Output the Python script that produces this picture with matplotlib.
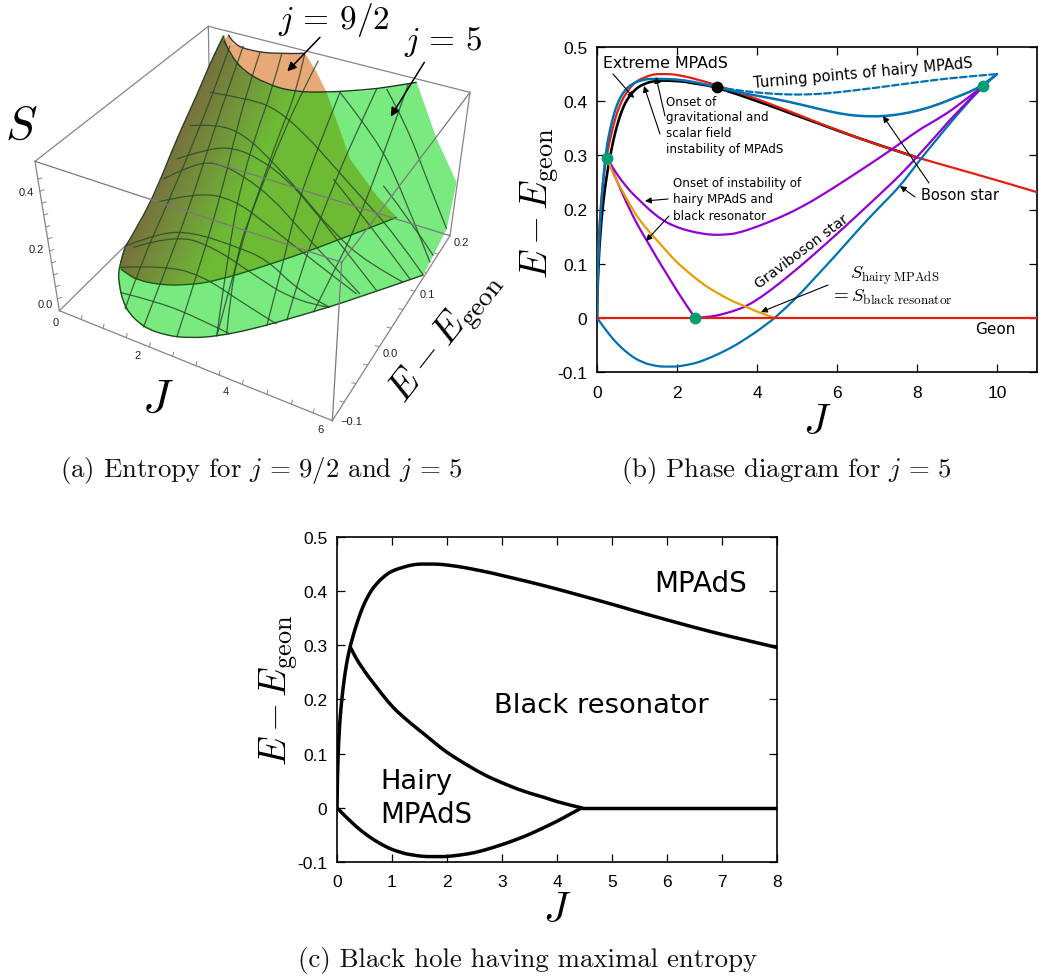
import numpy as np
import matplotlib
matplotlib.use("Agg")
import matplotlib.pyplot as plt
from matplotlib.path import Path
from matplotlib.patches import PathPatch, Polygon

plt.rcParams['mathtext.fontset'] = 'cm'
plt.rcParams['font.family'] = ['Liberation Sans', 'DejaVu Sans']
plt.rcParams['axes.unicode_minus'] = False

W, H = 1039, 979
# ---------- phase diagram data (J, E - E_geon) ----------
mpads_j = [0, .005, .01, .02, .03, .05, .07, .1, .13, .17, .21, .25, .3, .35, .4, .45, .5, .55, .6, .65, .7, .75, .8, .9, 1, 1.1, 1.2, 1.3, 1.4, 1.5, 1.6, 1.7, 1.8, 1.95, 2.1, 2.3, 2.5, 2.75, 3, 3.5, 4, 4.5, 5, 5.5, 6, 6.5, 7, 7.5, 8, 9, 10, 11]
mpads_e = [0, .035, .06, .095, .12, .157, .182, .212, .237, .264, .285, .302, .32, .337, .352, .366, .378, .388, .397, .405, .411, .417, .422, .431, .437, .441, .444, .447, .449, .45, .45, .45, .45, .449, .447, .444, .44, .435, .429, .417, .404, .39, .376, .361, .347, .333, .32, .308, .296, .275, .254, .232]
extreme_j = [0, .005, .01, .02, .04, .06, .08, .1, .13, .16, .2, .25, .3, .35, .4, .475, .55, .625, .7, .775, .85, .925, 1, 1.1, 1.2, 1.3, 1.45, 1.6, 1.75, 2, 2.2, 2.4, 2.7, 3, 3.5, 4, 4.5, 5, 5.5, 6, 7, 8]
extreme_e = [0, .025, .04, .065, .1, .13, .15, .17, .195, .215, .24, .265, .287, .306, .325, .348, .367, .383, .396, .405, .413, .419, .424, .429, .432, .435, .437, .438, .438, .437, .436, .433, .43, .425, .413, .4, .387, .373, .36, .346, .32, .296]
onset_j = [0, .005, .01, .02, .04, .07, .1, .13, .17, .2, .25, .3, .35, .4, .475, .55, .625, .7, .775, .85, .925, 1, 1.1, 1.2, 1.3, 1.45, 1.7, 2, 2.4, 3, 3.5, 4, 4.75, 5.58, 6.2, 6.7, 7.15, 7.6, 8, 8.5, 9, 9.35, 9.65, 10]
onset_e = [0, .03, .05, .08, .12, .165, .2, .23, .265, .29, .318, .338, .355, .37, .388, .402, .412, .42, .426, .43, .433, .436, .438, .44, .441, .441, .441, .44, .436, .426, .417, .41, .4, .385, .375, .372, .372, .376, .382, .393, .408, .418, .43, .45]
turning_j = [3, 3.5, 4, 4.5, 5, 5.5, 6, 7, 8, 9, 10]
turning_e = [.426, .42, .416, .413, .412, .413, .416, .425, .435, .444, .45]
boson_j = [0, .125, .25, .375, .5, .625, .75, .875, 1, 1.125, 1.25, 1.375, 1.5, 1.625, 1.75, 1.875, 2, 2.25, 2.5, 2.75, 3, 3.25, 3.5, 3.75, 4, 4.25, 4.45, 5, 5.5, 6, 6.5, 7, 7.58, 8, 8.5, 9, 9.65, 10]
boson_e = [0, -.013, -.025, -.037, -.047, -.056, -.064, -.071, -.077, -.081, -.085, -.087, -.089, -.09, -.09, -.09, -.09, -.087, -.083, -.076, -.068, -.059, -.049, -.037, -.025, -.011, 0, .038, .078, .118, .16, .2, .243, .285, .33, .375, .428, .45]
hairy_up_j = [.25, .45, .65, .85, 1.05, 1.3, 1.6, 1.9, 2.3, 2.75, 3, 3.25, 3.5, 4, 4.5, 5, 5.6, 6.5, 7.4, 8, 8.5, 9, 9.65]
hairy_up_e = [.295, .27, .25, .232, .218, .2, .182, .17, .16, .154, .153, .154, .156, .168, .183, .2, .225, .268, .312, .345, .366, .39, .428]
hairy_lo_j = [.25, .4, .6, .8, 1, 1.25, 1.5, 1.75, 2, 2.2, 2.45]
hairy_lo_e = [.295, .27, .235, .203, .173, .142, .11, .08, .05, .027, 0]
gravi_j = [2.45, 2.7, 3, 3.4, 3.75, 4.1, 4.5, 5, 5.5, 6, 6.4, 7.1, 7.6, 8, 8.5, 9, 9.65]
gravi_e = [0, .001, .004, .012, .022, .038, .06, .09, .122, .155, .182, .23, .265, .297, .338, .38, .428]
orange_j = [.25, .35, .45, .55, .65, .8, 1, 1.2, 1.4, 1.6, 1.8, 2, 2.3, 2.65, 3, 3.4, 3.75, 4.1, 4.45]
orange_e = [.295, .275, .26, .245, .232, .212, .187, .168, .151, .135, .118, .102, .083, .062, .046, .03, .02, .008, 0]
geon_j = [0, 11]
geon_e = [0, 0]
green_dots_j = [.25, 9.65, 2.45]
green_dots_e = [.295, .428, 0]
black_dot_j = [3]
black_dot_e = [.426]

b_xticks = [0, 2, 4, 6, 8, 10]
c_xticks = [0, 1, 2, 3, 4, 5, 6, 7, 8]
y_ticks = [-.1, 0, .1, .2, .3, .4, .5]
y_ticklabels = ['-0.1', '0', '0.1', '0.2', '0.3', '0.4', '0.5']

# ---------- panel (a): the projected 3D picture, in screen units ----------
green_x = [668, 640, 590, 530, 470, 420, 375, 357, 355, 375, 430, 500, 570, 650, 760, 900, 1050, 1270, 1300, 1340, 1370, 1310, 1250, 1160, 1100, 980, 880, 800, 730, 690]
green_y = [105, 170, 290, 420, 570, 670, 745, 800, 850, 930, 985, 1010, 1017, 1012, 990, 950, 905, 828, 770, 690, 550, 420, 250, 265, 275, 280, 275, 255, 215, 165]
orange_x = [685, 700, 750, 830, 915, 950, 980, 880, 800, 730, 690, 672]
orange_y = [107, 135, 155, 165, 163, 220, 280, 278, 255, 215, 165, 125]
olive_x = [672, 640, 590, 530, 470, 420, 375, 360, 362, 400, 480, 560, 640, 800, 1000, 1190, 1130, 1050, 980, 880, 800, 730, 690]
olive_y = [110, 170, 290, 420, 570, 670, 745, 790, 810, 840, 858, 858, 848, 800, 730, 655, 590, 480, 280, 278, 255, 215, 165]
top_edge_x = [672, 690, 730, 800, 880, 980, 1100, 1160, 1250]
top_edge_y = [125, 165, 215, 255, 278, 280, 272, 265, 250]
orange_edge_x = [685, 700, 750, 830, 915]
orange_edge_y = [107, 135, 155, 165, 163]
bottom_edge_x = [375, 357, 355, 375, 430, 500, 570, 650, 760, 900, 1050, 1270]
bottom_edge_y = [745, 800, 850, 930, 985, 1010, 1017, 1012, 990, 950, 905, 828]
inner_edge_x = [362, 400, 480, 560, 640, 800, 1000, 1190]
inner_edge_y = [810, 840, 858, 858, 848, 800, 730, 655]
left_edge_x = [672, 640, 590, 530, 470, 420, 375]
left_edge_y = [110, 170, 290, 420, 570, 670, 745]

box_corner_x = {'a': 625, 'b': 105, 'c': 178, 'd': 997, 'e': 1350, 'f': 1410, 'g': 1025, 'h': 632}
box_corner_y = {'a': 82, 'b': 487, 'c': 935, 'd': 1265, 'e': 710, 'f': 280, 'g': 790, 'h': 488}
s_tick_fracs = [.12, .2, .28, .36, .44, .52, .6, .68, .76, .84, .92]
j_tick_fracs = [.08, .16, .245, .33, .415, .5, .585, .67, .76, .85, .93]
e_tick_fracs = [.1, .2, .3, .4, .5, .6, .7, .8, .9]

long_lines = [
    ([690, 655, 585, 500, 420, 375], [140, 240, 420, 620, 800, 930]),
    ([730, 695, 640, 570, 490, 430], [140, 240, 400, 620, 830, 985]),
    ([780, 750, 710, 670, 600, 530], [160, 250, 390, 560, 800, 1015]),
    ([845, 815, 770, 730, 690, 650], [165, 275, 400, 530, 720, 1012]),
    ([915, 890, 840, 790, 730, 650], [160, 275, 400, 540, 710, 1012]),
    ([1020, 960, 890, 850, 800], [280, 430, 620, 790, 982]),
    ([1130, 1060, 1000, 910, 860], [270, 420, 560, 790, 965]),
    ([1225, 1150, 1060, 1000, 940], [255, 470, 700, 820, 940]),
    ([955, 900, 830, 770, 700, 680], [185, 290, 450, 600, 790, 1005]),
]
cross_lines = [
    ([630, 750, 830, 920, 1000, 1080, 1180, 1270], [280, 300, 330, 410, 500, 590, 700, 828]),
    ([570, 650, 730, 810, 900, 1000, 1100, 1210], [380, 375, 405, 480, 580, 700, 790, 850]),
    ([530, 620, 700, 780, 860, 940, 1040, 1130], [480, 450, 445, 480, 540, 630, 760, 875]),
    ([490, 580, 650, 730, 820, 890, 1000, 1080], [540, 495, 490, 530, 600, 680, 800, 885]),
    ([470, 590, 700, 800, 920, 1070], [610, 580, 600, 675, 770, 885]),
    ([380, 480, 580, 700, 800, 900, 990], [740, 700, 700, 740, 780, 880, 925]),
    ([400, 530, 650, 750, 890, 990], [745, 705, 750, 820, 910, 925]),
    ([360, 480, 600, 740, 830], [805, 800, 825, 920, 975]),
    ([360, 480, 600, 690], [880, 910, 960, 1005]),
    ([1020, 1130, 1200, 1290], [280, 420, 560, 790]),
    ([1160, 1220, 1280, 1340], [270, 380, 540, 690]),
    ([1000, 1120, 1230], [540, 690, 840]),
    ([1150, 1235, 1300], [560, 670, 770]),
]
a_tick_text = [('0.4', 80, 578), ('0.2', 110, 750), ('0.0', 135, 915), ('0', 168, 970),
               ('2', 413, 1068), ('4', 677, 1177), ('6', 960, 1290),
               ('\u22120.1', 1053, 1265), ('0.0', 1172, 1062), ('0.1', 1283, 885), ('0.2', 1383, 730)]


def P(x, y):
    return x / W, 1 - y / H


def ax_px(l, t, r, b):
    return [l / W, 1 - b / H, (r - l) / W, (b - t) / H]


def smooth(xs, ys):
    pts = np.column_stack([xs, ys]).astype(float)
    if len(pts) < 3:
        return Path(pts)
    verts = [pts[0]]
    codes = [Path.MOVETO]
    for i in range(1, len(pts) - 1):
        end = pts[-1] if i == len(pts) - 2 else (pts[i] + pts[i + 1]) / 2
        verts += [pts[i], end]
        codes += [Path.CURVE3, Path.CURVE3]
    return Path(verts, codes)


def curve(ax, xs, ys, color, width, z=3, ls='-'):
    ax.add_patch(PathPatch(smooth(xs, ys), fill=False, ec=color, lw=width, ls=ls, zorder=z, capstyle='round'))


def box_line(ax, e, c, z):
    ax.plot([box_corner_x[e[0]], box_corner_x[e[1]]], [box_corner_y[e[0]], box_corner_y[e[1]]],
            color=c, lw=0.9, zorder=z)


def box_ticks(ax, e, fracs, dx, dy):
    x0, y0 = box_corner_x[e[0]], box_corner_y[e[0]]
    x1, y1 = box_corner_x[e[1]], box_corner_y[e[1]]
    for f in fracs:
        x, y = x0 + f * (x1 - x0), y0 + f * (y1 - y0)
        ax.plot([x, x + dx], [y, y + dy], color='#858585', lw=.7, zorder=1)


fig = plt.figure(figsize=(W / 100, H / 100), dpi=100)

# ---- panel a ----
axa = fig.add_axes(ax_px(0, 0, 520, 490))
axa.axis('off')
for e in ['ab', 'af', 'bc', 'cd', 'de', 'ef', 'ah', 'ch']:
    box_line(axa, e, '#858585', 1)
box_ticks(axa, 'bc', s_tick_fracs, 12, -4)
box_ticks(axa, 'cd', j_tick_fracs, 3, -12)
box_ticks(axa, 'de', e_tick_fracs, -12, -3)
axa.add_patch(Polygon(np.column_stack([green_x, green_y]), closed=True, fc='#78EA80', ec='none', zorder=2))
axa.add_patch(Polygon(np.column_stack([orange_x, orange_y]), closed=True, fc='#E9A877', ec='none', zorder=2))
olive = Polygon(np.column_stack([olive_x, olive_y]), closed=True, fc='none', ec='none', zorder=3)
axa.add_patch(olive)
gx, gy = np.meshgrid(np.linspace(300, 1250, 190), np.linspace(100, 870, 154))
u = np.clip((gx + 0.465 * gy - 720) / 280, 0, 1)
rgb = np.zeros(gx.shape + (3,))
c0, c1 = np.array([.47, .44, .24]), np.array([.43, .73, .21])
for k in range(3):
    rgb[..., k] = c0[k] + (c1[k] - c0[k]) * u
im = axa.imshow(rgb, extent=(300, 1250, 870, 100), zorder=3, aspect='auto', interpolation='bilinear')
im.set_clip_path(olive)
axa.set_xlim(0, 1560)
axa.set_ylim(1470, 0)
for (xs, ys) in long_lines + cross_lines:
    axa.add_patch(PathPatch(smooth(xs, ys), fc='none', ec='#2C4A2C', lw=0.9, alpha=.85, zorder=4))
for xs, ys, c in [(top_edge_x, top_edge_y, '#1E3A1E'), (orange_edge_x, orange_edge_y, '#333333'),
                  (bottom_edge_x, bottom_edge_y, '#1E4A1E'), (inner_edge_x, inner_edge_y, '#1A5A1A'),
                  (left_edge_x, left_edge_y, '#304030')]:
    axa.add_patch(PathPatch(smooth(xs, ys), fc='none', ec=c, lw=1.0, zorder=5))
for e in ['bg', 'gd', 'gf', 'he']:
    box_line(axa, e, '#7A7A7A', 6)
for s, x, y in a_tick_text:
    axa.text(x, y, s, fontsize=8, color='#222222', ha='center', va='center', zorder=7)
for (x0, y0, x1, y1) in [(960, 115, 862, 217), (1273, 190, 1172, 353)]:
    axa.annotate('', xy=(x1, y1), xytext=(x0, y0),
                 arrowprops=dict(arrowstyle='-|>', color='k', lw=1.1, shrinkA=0, shrinkB=0, mutation_scale=13), zorder=8)
axa.text(1000, 60, r'$j\,=\,9/2$', fontsize=24, ha='center', va='center')
axa.text(1330, 125, r'$j\,=\,5$', fontsize=24, ha='center', va='center')
axa.text(65, 380, r'$S$', fontsize=34, ha='center', va='center')
axa.text(475, 1200, r'$J$', fontsize=34, ha='center', va='center')
axa.text(1340, 1015, r'$E - E_{\mathrm{geon}}$', fontsize=28, rotation=52, ha='center', va='center', rotation_mode='anchor')


def style(ax, xticks):
    ax.set_xticks(xticks)
    ax.set_yticks(y_ticks)
    ax.set_yticklabels(y_ticklabels)
    ax.tick_params(direction='in', top=True, right=True, length=6, width=0.9, labelsize=12.5, pad=7)
    ax.tick_params(axis='x', pad=9)
    for sp in ax.spines.values():
        sp.set_linewidth(1.2)


# ---- panel b ----
axb = fig.add_axes(ax_px(597, 48, 1037, 373))
axb.set_xlim(0, 11)
axb.set_ylim(-.1, .5)
style(axb, b_xticks)
lw = 1.6
curve(axb, extreme_j, extreme_e, 'k', lw + .3, z=2)
curve(axb, mpads_j, mpads_e, '#E51E10', lw)
curve(axb, boson_j, boson_e, '#0072B2', lw)
curve(axb, hairy_up_j, hairy_up_e, '#9400D3', lw)
curve(axb, hairy_lo_j, hairy_lo_e, '#9400D3', lw)
curve(axb, gravi_j, gravi_e, '#9400D3', lw)
curve(axb, orange_j, orange_e, '#E69F00', lw)
curve(axb, onset_j, onset_e, '#0072B2', lw + .2, z=4)
curve(axb, turning_j, turning_e, '#0072B2', lw, z=4, ls=(0, (3, 1.4)))
curve(axb, geon_j, geon_e, '#E51E10', lw, z=4)
axb.plot(green_dots_j, green_dots_e, 'o', color='#009E73', ms=8.5, mec='none', zorder=6, clip_on=False)
axb.plot(black_dot_j, black_dot_e, 'o', color='k', ms=8.5, mec='none', zorder=6)

for (x0, y0, x1, y1) in [(613, 75, 634, 99), (665, 117, 656, 78), (660, 135, 644, 87),
                         (929, 184, 883, 117), (915, 198, 900, 187), (668, 200, 645, 202),
                         (669, 217, 646, 242), (828, 286, 761, 313)]:
    fig.add_artist(matplotlib.text.Annotation('', xy=P(x1, y1), xytext=P(x0, y0),
                   xycoords='figure fraction', textcoords='figure fraction',
                   arrowprops=dict(arrowstyle='-|>', color='k', lw=.8, shrinkA=0, shrinkB=0, mutation_scale=9)))


def T(x, y, s, size, ha='left', va='center', rot=0, fam='DejaVu Sans', color='k'):
    fx, fy = P(x, y)
    return fig.text(fx, fy, s, fontsize=size, ha=ha, va=va, rotation=rot, family=fam, color=color,
                    rotation_mode='anchor', linespacing=1.0)


T(603, 63, 'Extreme MPAdS', 11.4)
T(753, 84, 'Turning points of hairy MPAdS', 10.6, rot=5.3, ha='left')
for i, s in enumerate(['Onset of', 'gravitational and', 'scalar field', 'instability of MPAdS']):
    T(666, 102 + i * 16, s, 8.6)
for i, s in enumerate(['Onset of instability of', 'hairy MPAdS and', 'black resonator']):
    T(673, 184 + i * 16, s, 8.6)
T(921, 196, 'Boson star', 10.5)
T(975, 330, 'Geon', 11)
T(761, 291, 'Graviboson star', 10.2, rot=37, va='bottom')
T(850, 276, r'$S_{\mathrm{hairy\ MPAdS}}$', 13.2, fam='DejaVu Sans')
T(830, 297, r'$=S_{\mathrm{black\ resonator}}$', 13.6, fam='DejaVu Sans')

# ---- panel c ----
axc = fig.add_axes(ax_px(337, 538, 777, 863))
axc.set_xlim(0, 8)
axc.set_ylim(-.1, .5)
style(axc, c_xticks)
clw = 2.5
n_mpads = mpads_j.index(8) + 1
n_boson = boson_j.index(4.45) + 1
curve(axc, mpads_j[:n_mpads], mpads_e[:n_mpads], 'k', clw)
curve(axc, orange_j, orange_e, 'k', clw)
curve(axc, boson_j[:n_boson], boson_e[:n_boson], 'k', clw)
curve(axc, [orange_j[-1], c_xticks[-1]], [0, 0], 'k', clw)
T(654, 584, 'MPAdS', 20)
T(494, 706, 'Black resonator', 19.7)
T(380, 782, 'Hairy', 19.6)
T(380, 815, 'MPAdS', 19.8)

# ---- big labels and captions ----
T(540, 203, r'$E - E_{\mathrm{geon}}$', 27, ha='center', rot=90)
T(817, 422, r'$J$', 30, ha='center')
T(279, 690, r'$E - E_{\mathrm{geon}}$', 27, ha='center', rot=90)
T(557, 910, r'$J$', 30, ha='center')
for x, y, s in [(261, 471, r'(a) Entropy for $j\,=\,9/2$ and $j\,=\,5$'),
                (786, 471, r'(b) Phase diagram for $j\,=\,5$'),
                (528, 961, r'(c) Black hole having maximal entropy')]:
    T(x, y, s, 19.3, ha='center', fam='cmr10', color='#111111')

fig.savefig('out.png', dpi=100)
